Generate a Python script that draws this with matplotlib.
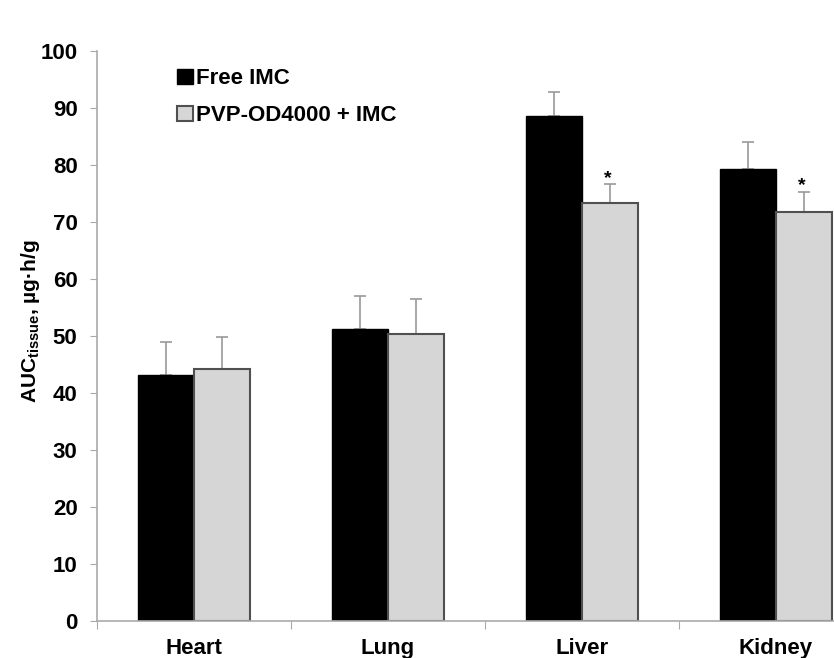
import numpy as np
import matplotlib
matplotlib.use("Agg")
import matplotlib.pyplot as plt

plt.rcParams['font.family'] = ['Liberation Sans', 'DejaVu Sans']
plt.rcParams['font.weight'] = 'bold'
plt.rcParams['mathtext.fontset'] = 'custom'
plt.rcParams['mathtext.rm'] = 'Liberation Sans:bold'
plt.rcParams['mathtext.it'] = 'Liberation Sans:bold'
plt.rcParams['mathtext.bf'] = 'Liberation Sans:bold'

# data
organs = ['Heart', 'Lung', 'Liver', 'Kidney']
free_imc = [43.2, 51.2, 88.6, 79.3]
free_err = [5.8, 5.8, 4.2, 4.7]
pvp_imc = [44.2, 50.4, 73.4, 71.7]
pvp_err = [5.6, 6.1, 3.2, 3.6]
signif = [False, False, True, True]

fig = plt.figure(figsize=(8.34, 6.58), dpi=100)
ax = fig.add_axes([0.1163, 0.0562, 0.9305, 0.8663])

x = np.arange(len(organs))
w = 0.29
edge = '#505050'
errc = '#999999'

ax.bar(x - w / 2, free_imc, w, color='black', edgecolor='black', lw=1,
       label='Free IMC', zorder=2)
ax.bar(x + w / 2, pvp_imc, w, color='#d6d6d6', edgecolor=edge, lw=1.5,
       label='PVP-OD4000 + IMC', zorder=2)

zeros = np.zeros(len(organs))
ax.errorbar(x - w / 2, free_imc, yerr=[zeros, free_err], fmt='none',
            ecolor=errc, elinewidth=1.2, capsize=4, capthick=1.2, zorder=1)
ax.errorbar(x + w / 2, pvp_imc, yerr=[zeros, pvp_err], fmt='none',
            ecolor=errc, elinewidth=1.2, capsize=4, capthick=1.2, zorder=1)

for xi, v, e, s in zip(x, pvp_imc, pvp_err, signif):
    if s:
        ax.text(xi + w / 2 - 0.01, v + e - 0.4, '*', ha='center', va='bottom',
                fontsize=14, fontweight='bold')

ax.set_xlim(-0.5, len(organs) - 0.5)
ax.set_ylim(0, 100)
ax.set_yticks(np.arange(0, 101, 10))
ax.set_xticks(np.arange(-0.5, len(organs), 1.0))
ax.set_xticklabels([])
ax.set_xticks(x, minor=True)
ax.set_xticklabels(organs, minor=True)
ax.tick_params(axis='x', which='minor', length=0, pad=12, labelsize=16)
ax.tick_params(axis='x', which='major', length=6, color='#aaaaaa')
ax.tick_params(axis='y', length=5, color='#aaaaaa', labelsize=16, pad=9)

for s in ['top', 'right']:
    ax.spines[s].set_visible(False)
for s in ['left', 'bottom']:
    ax.spines[s].set_color('#aaaaaa')
    ax.spines[s].set_linewidth(1.2)

ax.set_ylabel('AUC$_{tissue}$, µg·h/g', fontsize=15, fontweight='bold')
ax.yaxis.set_label_coords(-0.071, 0.526)

ax.legend(loc='upper left', bbox_to_anchor=(0.092, 0.985), frameon=False,
          fontsize=16, handlelength=0.7, handleheight=0.7, handletextpad=0.15,
          labelspacing=0.72, borderaxespad=0)

fig.savefig('out.png', dpi=100)
